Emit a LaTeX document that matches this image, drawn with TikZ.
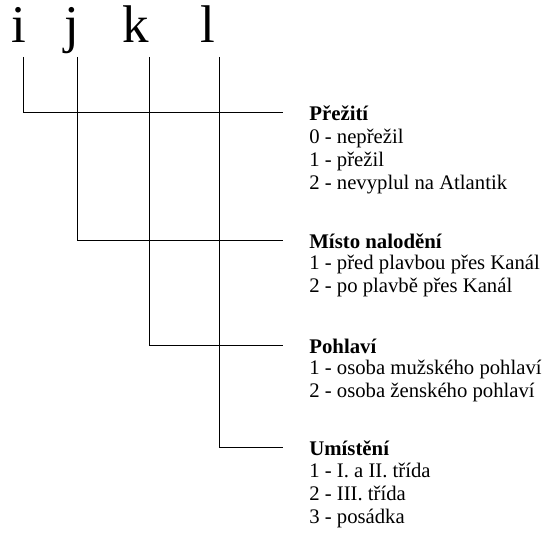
\documentclass[tikz,border=0pt]{standalone}
\usepackage{fontspec}
\setmainfont{Liberation Serif}

\begin{document}
\begin{tikzpicture}[x=1pt,y=1pt,line width=0.7pt,
  letter/.style={inner sep=0pt,anchor=base,font=\fontsize{53}{58}\selectfont},
  head/.style={inner sep=0pt,anchor=west,text height=18pt,text depth=0pt,font=\fontsize{20.8}{24}\selectfont\bfseries},
  item/.style={inner sep=0pt,anchor=base west,font=\fontsize{20.7}{24}\selectfont}]

\useasboundingbox (0,0) rectangle (550,-534);

% index letters
\node[letter] (li) at (19,-43) {i};
\node[letter] (lj) at (72,-43) {j};
\node[letter] (lk) at (136,-43) {k};
\node[letter] (ll) at (208,-43) {l};

\coordinate (ti) at (23,-57);
\coordinate (tj) at (77,-57);
\coordinate (tk) at (149,-57);
\coordinate (tl) at (219,-57);

% Prezití
\node[head] (h1) at (309,-112) {Přežití};
\node[item] (h1a) at (309,-144) {0 - nepřežil};
\node[item] (h1b) at (309,-167) {1 - přežil};
\node[item] (h1c) at (309,-190) {2 - nevyplul na Atlantik};

% Místo nalodení
\node[head] (h2) at (309,-240) {Místo nalodění};
\node[item] (h2a) at (309,-270) {1 - před plavbou přes Kanál};
\node[item] (h2b) at (309,-293) {2 - po plavbě přes Kanál};

% Pohlaví
\node[head] (h3) at (309,-345) {Pohlaví};
\node[item] (h3a) at (309,-375) {1 - osoba mužského pohlaví};
\node[item] (h3b) at (309,-398) {2 - osoba ženského pohlaví};

% Umístení
\node[head] (h4) at (309,-447) {Umístění};
\node[item] (h4a) at (309,-478) {1 - I. a II. třída};
\node[item] (h4b) at (309,-501) {2 - III. třída};
\node[item] (h4c) at (309,-524) {3 - posádka};

\draw (ti) |- ([xshift=-26pt]h1.west);
\draw (tj) |- ([xshift=-26pt]h2.west);
\draw (tk) |- ([xshift=-26pt]h3.west);
\draw (tl) |- ([xshift=-26pt]h4.west);

\end{tikzpicture}
\end{document}
